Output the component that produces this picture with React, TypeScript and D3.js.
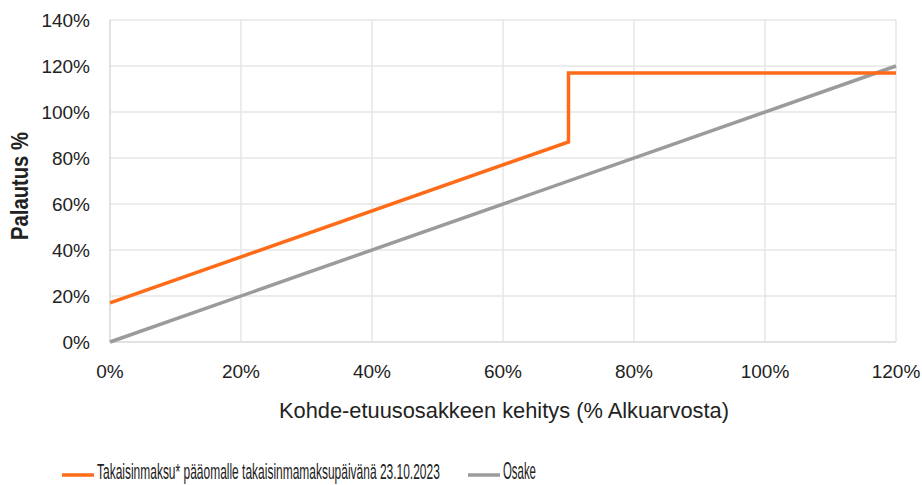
import React, { useEffect, useRef } from 'react';
import * as d3 from 'd3';

// x = underlying performance (% of initial value)
const xPoints = [0, 70, 70, 120];
const payoffValues = [17, 87, 117, 117];
const stockX = [0, 120];
const stockValues = [0, 120];
const xTicks = [0, 20, 40, 60, 80, 100, 120];
const yTicks = [0, 20, 40, 60, 80, 100, 120, 140];
const seriesNames = ['Takaisinmaksu* pääomalle takaisinmamaksupäivänä 23.10.2023', 'Osake'];
const seriesColors = ['#ff6b17', '#9b9b9b'];

export default function App() {
  const ref = useRef<SVGSVGElement>(null);

  useEffect(() => {
    const svg = d3.select(ref.current);
    svg.selectAll('*').remove();

    const W = 922;
    const H = 485;
    const margin = { top: 20, right: 26, bottom: 143, left: 110 };
    const width = W - margin.left - margin.right;
    const height = H - margin.top - margin.bottom;
    const font = "'Liberation Sans', Arial, sans-serif";

    const x = d3.scaleLinear().domain([0, 120]).range([0, width]);
    const y = d3.scaleLinear().domain([0, 140]).range([height, 0]);

    // squeeze a text horizontally to a target width (narrow font in the original)
    const squeeze = (sel: any, left: number, base: number, target: number, rotate = false) => {
      const len = (sel.node() as SVGTextElement).getComputedTextLength();
      const k = target / len;
      if (rotate) {
        sel.attr('transform', `translate(${left},${base}) rotate(-90) scale(${k},1)`);
      } else {
        sel.attr('transform', `translate(${left},${base}) scale(${k},1)`);
      }
    };

    const g = svg.append('g').attr('transform', `translate(${margin.left},${margin.top})`);

    // grid
    g.selectAll('.hgrid')
      .data(yTicks)
      .enter()
      .append('line')
      .attr('x1', 0)
      .attr('x2', width)
      .attr('y1', (d) => y(d))
      .attr('y2', (d) => y(d))
      .attr('stroke', (d) => (d === 0 ? '#d9d9d9' : '#e6e6e6'))
      .attr('stroke-width', 1.5);

    g.selectAll('.vgrid')
      .data(xTicks)
      .enter()
      .append('line')
      .attr('x1', (d) => x(d))
      .attr('x2', (d) => x(d))
      .attr('y1', 0)
      .attr('y2', height)
      .attr('stroke', (d) => (d === 0 ? '#d9d9d9' : '#e6e6e6'))
      .attr('stroke-width', 1.5);

    // tick labels
    g.selectAll('.ylab')
      .data(yTicks)
      .enter()
      .append('text')
      .attr('x', -20)
      .attr('y', (d) => y(d))
      .attr('dy', '0.35em')
      .attr('text-anchor', 'end')
      .attr('font-family', font)
      .attr('font-size', 19)
      .attr('fill', '#222')
      .text((d) => `${d}%`);

    g.selectAll('.xlab')
      .data(xTicks)
      .enter()
      .append('text')
      .attr('x', (d) => x(d))
      .attr('y', height + 29)
      .attr('dy', '0.35em')
      .attr('text-anchor', 'middle')
      .attr('font-family', font)
      .attr('font-size', 19)
      .attr('fill', '#222')
      .text((d) => `${d}%`);

    // axis titles
    const xTitle = svg
      .append('text')
      .attr('font-family', font)
      .attr('font-size', 22)
      .attr('fill', '#222')
      .text('Kohde-etuusosakkeen kehitys (% Alkuarvosta)');
    squeeze(xTitle, 279, 418, 450);

    const yTitle = svg
      .append('text')
      .attr('text-anchor', 'middle')
      .attr('font-family', font)
      .attr('font-size', 23)
      .attr('font-weight', 'bold')
      .attr('fill', '#222')
      .text('Palautus %');
    squeeze(yTitle, 28, 186, 108, true);

    g.append('path')
      .datum(stockValues)
      .attr('d', d3.line<number>().x((d, i) => x(stockX[i])).y((d) => y(d)))
      .attr('fill', 'none')
      .attr('stroke', seriesColors[1])
      .attr('stroke-width', 3.5);

    g.append('path')
      .datum(payoffValues)
      .attr('d', d3.line<number>().x((d, i) => x(xPoints[i])).y((d) => y(d)))
      .attr('fill', 'none')
      .attr('stroke', seriesColors[0])
      .attr('stroke-width', 3.5);

    // legend
    const legendX = [62, 468];
    const legendLen = [343, 33];
    const ly = 475;
    seriesNames.forEach((name, i) => {
      svg
        .append('line')
        .attr('x1', legendX[i])
        .attr('x2', legendX[i] + 32)
        .attr('y1', ly)
        .attr('y2', ly)
        .attr('stroke', seriesColors[i])
        .attr('stroke-width', 3.5);
      const t = svg
        .append('text')
        .attr('font-family', font)
        .attr('font-size', 23)
        .attr('fill', '#222')
        .text(name);
      squeeze(t, legendX[i] + 35, 479, legendLen[i]);
    });
  }, []);

  return <svg ref={ref} width={922} height={485} style={{ position: 'absolute', left: 0, top: 0 }} />;
}
